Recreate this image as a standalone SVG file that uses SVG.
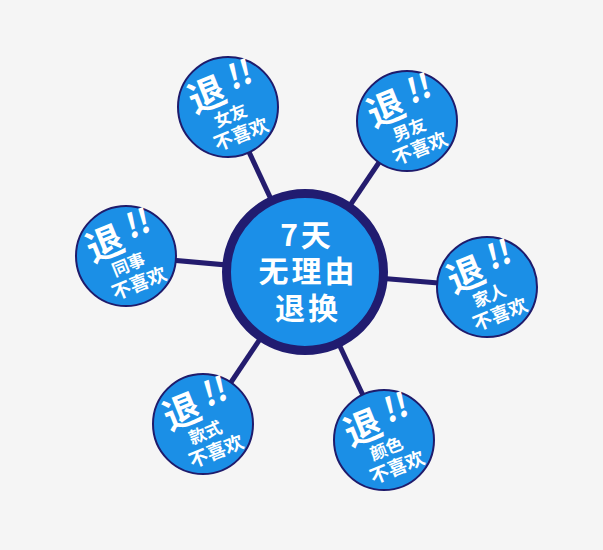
<svg xmlns="http://www.w3.org/2000/svg" width="603" height="550" viewBox="0 0 603 550">
<style>
.bg{fill:#f5f5f5}
.conn{stroke:#241c6e;stroke-width:5;stroke-linecap:butt;fill:none}
.sat{fill:#1b8fe6;stroke:#1f1b6b;stroke-width:2}
.hub{fill:#1b8fe8;stroke:#211c70;stroke-width:9}
text{font-family:"Noto Sans CJK SC","Noto Sans",sans-serif;font-weight:700;fill:#ffffff;text-anchor:middle}
.big{font-size:37px}
.ex{font-size:33px}
.lbl{font-size:17px}
.dis{font-size:19px}
.hubt{font-size:30px;letter-spacing:3px}
</style>
<defs>
<g id="tpl">
<text class="big" x="-15" y="-6">退</text>
<text class="ex" x="20" y="-14" transform="skewX(-8)">!!</text>
<text class="dis" x="2" y="37">不喜欢</text>
</g>
</defs>
<rect class="bg" x="0" y="0" width="603" height="550"/>
<g id="connectors">
<line class="conn" x1="305" y1="272" x2="228" y2="107"/>
<line class="conn" x1="305" y1="272" x2="407" y2="121"/>
<line class="conn" x1="305" y1="272" x2="126" y2="256"/>
<line class="conn" x1="305" y1="272" x2="487" y2="287"/>
<line class="conn" x1="305" y1="272" x2="203" y2="424"/>
<line class="conn" x1="305" y1="272" x2="384" y2="440"/>
</g>
<g id="hub">
<circle class="hub" cx="305" cy="272" r="78.5"/>
<text class="hubt" x="307" y="246">7天</text>
<text class="hubt" x="308" y="282">无理由</text>
<text class="hubt" x="308" y="319">退换</text>
</g>
<g id="node-nvyou">
<circle class="sat" cx="228" cy="107" r="50"/>
<g transform="translate(228 107) rotate(-22)"><use href="#tpl"/><text class="lbl" x="-1" y="15">女友</text></g>
</g>
<g id="node-nanyou">
<circle class="sat" cx="407" cy="121" r="50"/>
<g transform="translate(407 121) rotate(-22)"><use href="#tpl"/><text class="lbl" x="-1" y="15">男友</text></g>
</g>
<g id="node-tongshi">
<circle class="sat" cx="126" cy="256" r="50"/>
<g transform="translate(126 256) rotate(-22)"><use href="#tpl"/><text class="lbl" x="-1" y="15">同事</text></g>
</g>
<g id="node-jiaren">
<circle class="sat" cx="487" cy="287" r="50"/>
<g transform="translate(487 287) rotate(-22)"><use href="#tpl"/><text class="lbl" x="-1" y="15">家人</text></g>
</g>
<g id="node-kuanshi">
<circle class="sat" cx="203" cy="424" r="50"/>
<g transform="translate(203 424) rotate(-22)"><use href="#tpl"/><text class="lbl" x="-1" y="15">款式</text></g>
</g>
<g id="node-yanse">
<circle class="sat" cx="384" cy="440" r="50"/>
<g transform="translate(384 440) rotate(-22)"><use href="#tpl"/><text class="lbl" x="-1" y="15">颜色</text></g>
</g>
</svg>
